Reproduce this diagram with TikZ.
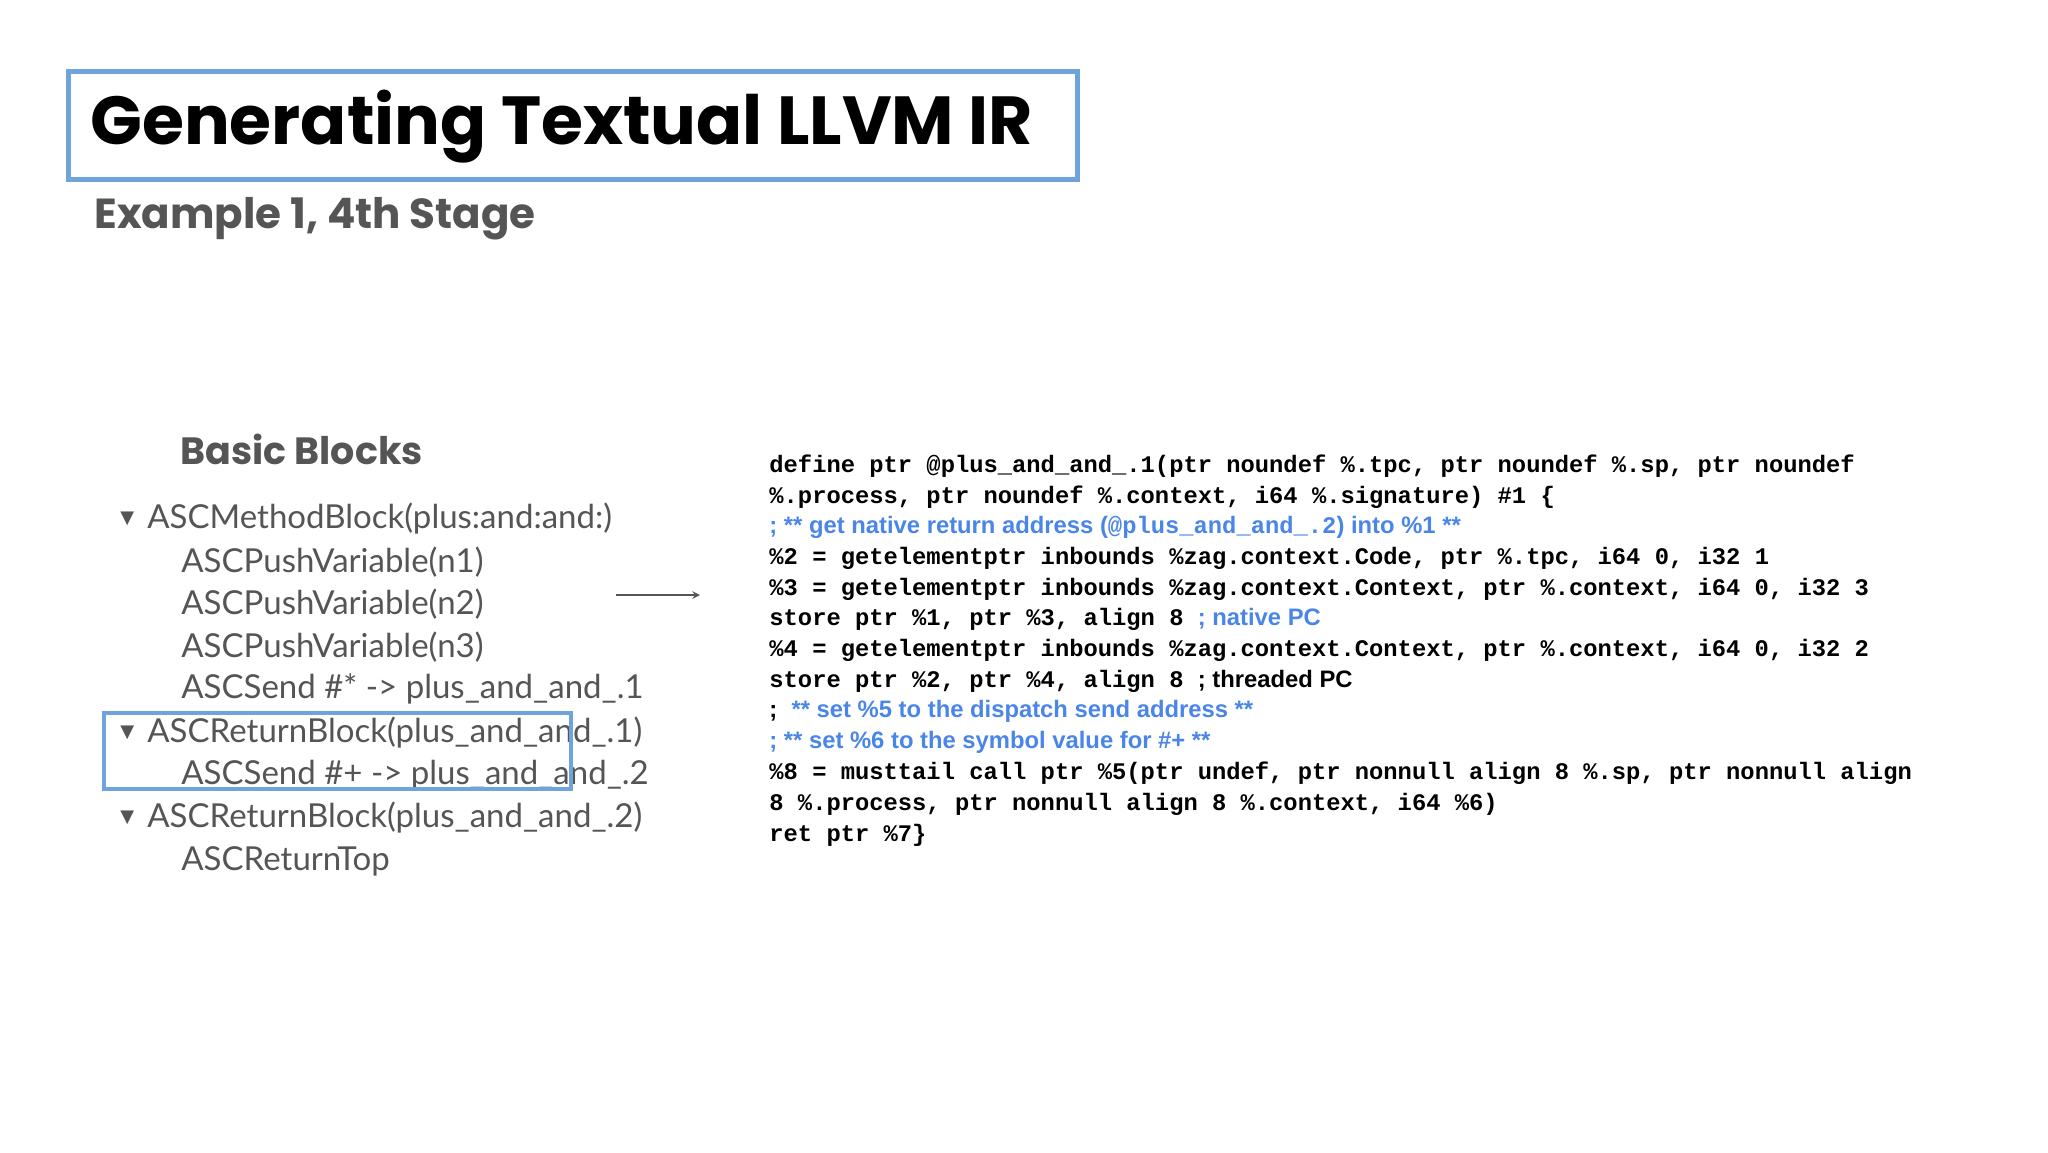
\documentclass[tikz,border=0pt]{standalone}
\usepackage{fontspec}
\setmainfont{Liberation Sans}
\setmonofont{Liberation Mono}
\newfontfamily\titlefont{Poppins}
\newfontfamily\treefont{Lato}
\newfontfamily\symfont{DejaVu Sans}
\definecolor{hlblue}{HTML}{6FA3DB}
\definecolor{cblue}{HTML}{4A86E8}
\definecolor{tgray}{HTML}{555555}
\begin{document}
\begin{tikzpicture}[x=0.5pt,y=-0.5pt,
  tree/.style={anchor=west,inner sep=0,font=\treefont\fontsize{16.5}{18}\selectfont,text=tgray},
  tri/.style={anchor=west,inner sep=0,font=\symfont\fontsize{9}{10}\selectfont,text=tgray},
  code/.style={anchor=west,inner sep=0,font=\ttfamily\bfseries\fontsize{11.9}{13}\selectfont},
  cmt/.style={text=cblue},
  box/.style={draw=hlblue,line width=2.5pt}]
\useasboundingbox (0,0) rectangle (2048,1152);
\fill[white] (0,0) rectangle (2048,1152);
% title
\draw[box] (68,71) rectangle (1077,179);
\node[anchor=west,inner sep=0,font=\titlefont\bfseries\fontsize{34}{40}\selectfont] (title) at (90,127) {Generating Textual LLVM IR};
\node[anchor=west,inner sep=0,font=\titlefont\bfseries\fontsize{21}{24}\selectfont,text=tgray] (sub) at (94,219) {Example 1, 4th Stage};
\node[anchor=west,inner sep=0,font=\titlefont\bfseries\fontsize{19}{22}\selectfont,text=tgray] (bb) at (180,449) {Basic Blocks};
% tree
\node[tri] (t1) at (120,519) {▼};
\node[tree] (r1) at (147,519) {ASCMethodBlock(plus:and:and:)};
\node[tree] (r2) at (181,562) {ASCPushVariable(n1)};
\node[tree] (r3) at (181,604) {ASCPushVariable(n2)};
\node[tree] (r4) at (181,647) {ASCPushVariable(n3)};
\node[tree] (r5) at (181,689) {ASCSend \#* -> plus\_and\_and\_.1};
\node[tri] (t2) at (120,733) {▼};
\node[tree] (r6) at (147,733) {ASCReturnBlock(plus\_and\_and\_.1)};
\node[tree] (r7) at (181,775) {ASCSend \#+ -> plus\_and\_and\_.2};
\node[tri] (t3) at (120,818) {▼};
\node[tree] (r8) at (147,818) {ASCReturnBlock(plus\_and\_and\_.2)};
\node[tree] (r9) at (181,861) {ASCReturnTop};
\draw[box,line width=2pt] (104,713) rectangle (571,789);
% arrow
\coordinate (a1) at (616,595);
\coordinate (a2) at (700,595);
\draw[-stealth,draw=tgray,line width=0.7pt] (a1) -- (a2);
% code
\node[code] (c1) at (769,466) {define ptr @plus\_and\_and\_.1(ptr noundef \%.tpc, ptr noundef \%.sp, ptr noundef};
\node[code] (c2) at (769,497) {\%.process, ptr noundef \%.context, i64 \%.signature) \#1 \{};
\node[code] (c3) at (769,527) {\color{cblue}\rmfamily; ** get native return address (\ttfamily @plus\_and\_and\_.2\rmfamily) into \%1 **};
\node[code] (c4) at (769,558) {\%2 = getelementptr inbounds \%zag.context.Code, ptr \%.tpc, i64 0, i32 1};
\node[code] (c5) at (769,589) {\%3 = getelementptr inbounds \%zag.context.Context, ptr \%.context, i64 0, i32 3};
\node[code] (c6) at (769,619) {store ptr \%1, ptr \%3, align 8 {\color{cblue}\rmfamily; native PC}};
\node[code] (c7) at (769,650) {\%4 = getelementptr inbounds \%zag.context.Context, ptr \%.context, i64 0, i32 2};
\node[code] (c8) at (769,681) {store ptr \%2, ptr \%4, align 8 {\rmfamily; threaded PC}};
\node[code] (c9) at (769,711) {{\rmfamily;} \color{cblue}\rmfamily ** set \%5 to the dispatch send address **};
\node[code] (c10) at (769,742) {\color{cblue}\rmfamily; ** set \%6 to the symbol value for \#+ **};
\node[code] (c11) at (769,773) {\%8 = musttail call ptr \%5(ptr undef, ptr nonnull align 8 \%.sp, ptr nonnull align};
\node[code] (c12) at (769,804) {8 \%.process, ptr nonnull align 8 \%.context, i64 \%6)};
\node[code] (c13) at (769,835) {ret ptr \%7\}};
\end{tikzpicture}
\end{document}
